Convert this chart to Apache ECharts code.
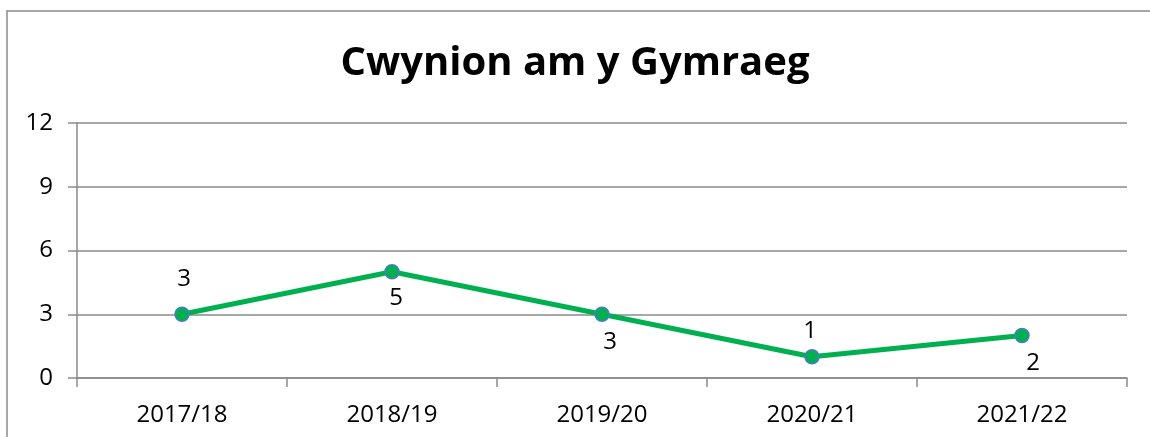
<!DOCTYPE html>
<html>
<head>
<meta charset="utf-8">
<script src="https://cdn.jsdelivr.net/npm/echarts@6/dist/echarts.min.js"></script>
<style>
  html, body { margin: 0; padding: 0; background: #fff; }
  #chart { width: 1150px; height: 437px; }
</style>
</head>
<body>
<div id="chart"></div>
<script>
// data
var years = ['2017/18', '2018/19', '2019/20', '2020/21', '2021/22'];
var complaints = [3, 5, 3, 1, 2];
var yTicks = [0, 3, 6, 9, 12];

var chart = echarts.init(document.getElementById('chart'), null, { renderer: 'canvas' });

var FONT = '"Open Sans", "Noto Sans", sans-serif';
var GRAY = '#8a8a8a';

// where each value label sits relative to its point
var labelPlace = [
  { position: 'top', offset: [2, -10] },
  { position: 'bottom', offset: [4, 2] },
  { position: 'bottom', offset: [8, 3] },
  { position: 'top', offset: [-2, -1] },
  { position: 'bottom', offset: [11, 3] }
];

var seriesData = complaints.map(function (v, i) {
  return { value: v, label: labelPlace[i] };
});

var option = {
  animation: false,
  backgroundColor: '#fff',
  title: {
    text: 'Cwynion am y Gymraeg',
    left: 'center',
    top: 44,
    padding: 0,
    textStyle: { fontFamily: FONT, fontWeight: 'bold', fontSize: 40, color: '#000' }
  },
  graphic: [{
    type: 'rect',
    shape: { x: 7, y: 11, width: 1200, height: 500 },
    style: { fill: 'none', stroke: GRAY, lineWidth: 1.5 },
    silent: true
  }],
  grid: { left: 77, right: 23, top: 123, bottom: 59 },
  xAxis: {
    type: 'category',
    data: years,
    boundaryGap: true,
    axisLine: { lineStyle: { color: GRAY, width: 1.5 } },
    axisTick: { show: true, length: 9, alignWithLabel: false, lineStyle: { color: GRAY, width: 1.5 } },
    axisLabel: { margin: 25, fontFamily: FONT, fontSize: 24, color: '#000' }
  },
  yAxis: {
    type: 'value',
    min: yTicks[0],
    max: yTicks[yTicks.length - 1],
    interval: yTicks[1] - yTicks[0],
    axisLine: { show: true, lineStyle: { color: GRAY, width: 1.5 } },
    axisTick: { show: true, length: 9, lineStyle: { color: GRAY, width: 1.5 } },
    splitLine: { lineStyle: { color: GRAY, width: 1.5 } },
    axisLabel: { margin: 24, fontFamily: FONT, fontSize: 24, color: '#000' }
  },
  series: [{
    type: 'line',
    data: seriesData,
    symbol: 'circle',
    symbolSize: 14,
    lineStyle: { color: '#00b050', width: 5 },
    itemStyle: { color: '#00b050', borderColor: '#4a7bc8', borderWidth: 1.5 },
    label: { show: true, fontFamily: FONT, fontSize: 24, color: '#000' },
    z: 3
  }]
};

chart.setOption(option);
</script>
</body>
</html>
